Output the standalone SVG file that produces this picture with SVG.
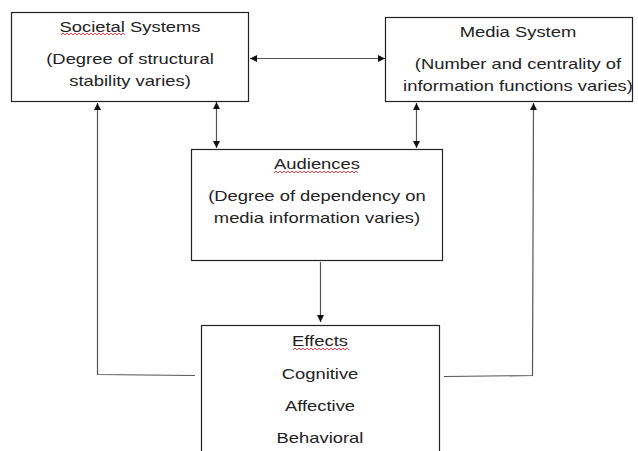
<svg xmlns="http://www.w3.org/2000/svg" width="638" height="451" viewBox="0 0 638 451">
<style>
.box{fill:#fff;stroke:#222;stroke-width:1.2}
.t{font-family:"Liberation Sans",Arial,sans-serif;font-size:15.2px;fill:#222;text-anchor:middle}
.c{fill:none;stroke:#555;stroke-width:1.2}
.sq{fill:none;stroke:#e03030;stroke-width:0.9}
</style>
<defs>
<marker id="ah" viewBox="0 0 10 10" refX="10" refY="5" markerWidth="7" markerHeight="7" markerUnits="userSpaceOnUse" orient="auto-start-reverse">
<path d="M0,0 L10,5 L0,10 z" fill="#111"/>
</marker>
</defs>
<rect width="638" height="451" fill="#fff"/>
<g id="connectors">
<line class="c" x1="250" y1="58.5" x2="385" y2="58.5" marker-start="url(#ah)" marker-end="url(#ah)"/>
<line class="c" x1="216.5" y1="102" x2="216.5" y2="148" marker-start="url(#ah)" marker-end="url(#ah)"/>
<line class="c" x1="416.5" y1="103" x2="416.5" y2="148" marker-start="url(#ah)" marker-end="url(#ah)"/>
<line class="c" x1="320.5" y1="262" x2="320.5" y2="322" marker-end="url(#ah)"/>
<polyline class="c" points="195,375.5 97.5,374.5 97.5,103" marker-end="url(#ah)"/>
<polyline class="c" points="444,376.5 532.5,375.5 533.5,103" marker-end="url(#ah)"/>
</g>
<g id="societal">
<rect class="box" x="11.5" y="12.5" width="237" height="89"/>
<text class="t" transform="translate(130,32) scale(1.21,1)">Societal Systems</text>
<path class="sq" d="M61,35 l2,-2 l2,2 l2,-2 l2,2 l2,-2 l2,2 l2,-2 l2,2 l2,-2 l2,2 l2,-2 l2,2 l2,-2 l2,2 l2,-2 l2,2 l2,-2 l2,2 l2,-2 l2,2 l2,-2 l2,2 l2,-2 l2,2 l2,-2 l2,2 l2,-2 l2,2 l2,-2 l2,2 l2,-2 l2,2"/>
<text class="t" transform="translate(130,64) scale(1.21,1)">(Degree of structural</text>
<text class="t" transform="translate(130,86) scale(1.21,1)">stability varies)</text>
</g>
<g id="media">
<rect class="box" x="385.5" y="17.5" width="247" height="84"/>
<text class="t" transform="translate(518,37) scale(1.21,1)">Media System</text>
<text class="t" transform="translate(518,69) scale(1.21,1)">(Number and centrality of</text>
<text class="t" transform="translate(518,91) scale(1.21,1)">information functions varies)</text>
</g>
<g id="audiences">
<rect class="box" x="191.5" y="149.5" width="251" height="111"/>
<text class="t" transform="translate(317,169) scale(1.21,1)">Audiences</text>
<path class="sq" d="M274,173 l2,-2 l2,2 l2,-2 l2,2 l2,-2 l2,2 l2,-2 l2,2 l2,-2 l2,2 l2,-2 l2,2 l2,-2 l2,2 l2,-2 l2,2 l2,-2 l2,2 l2,-2 l2,2 l2,-2 l2,2 l2,-2 l2,2 l2,-2 l2,2 l2,-2 l2,2 l2,-2 l2,2 l2,-2 l2,2 l2,-2 l2,2 l2,-2 l2,2 l2,-2 l2,2 l2,-2 l2,2 l2,-2 l2,2"/>
<text class="t" transform="translate(317,201) scale(1.21,1)">(Degree of dependency on</text>
<text class="t" transform="translate(317,223) scale(1.21,1)">media information varies)</text>
</g>
<g id="effects">
<rect class="box" x="201.5" y="325.5" width="238" height="140"/>
<text class="t" transform="translate(320,346) scale(1.21,1)">Effects</text>
<path class="sq" d="M293,350 l2,-2 l2,2 l2,-2 l2,2 l2,-2 l2,2 l2,-2 l2,2 l2,-2 l2,2 l2,-2 l2,2 l2,-2 l2,2 l2,-2 l2,2 l2,-2 l2,2 l2,-2 l2,2 l2,-2 l2,2 l2,-2 l2,2 l2,-2 l2,2 l2,-2 l2,2"/>
<text class="t" transform="translate(320,379) scale(1.21,1)">Cognitive</text>
<text class="t" transform="translate(320,411) scale(1.21,1)">Affective</text>
<text class="t" transform="translate(320,443) scale(1.21,1)">Behavioral</text>
</g>
</svg>
